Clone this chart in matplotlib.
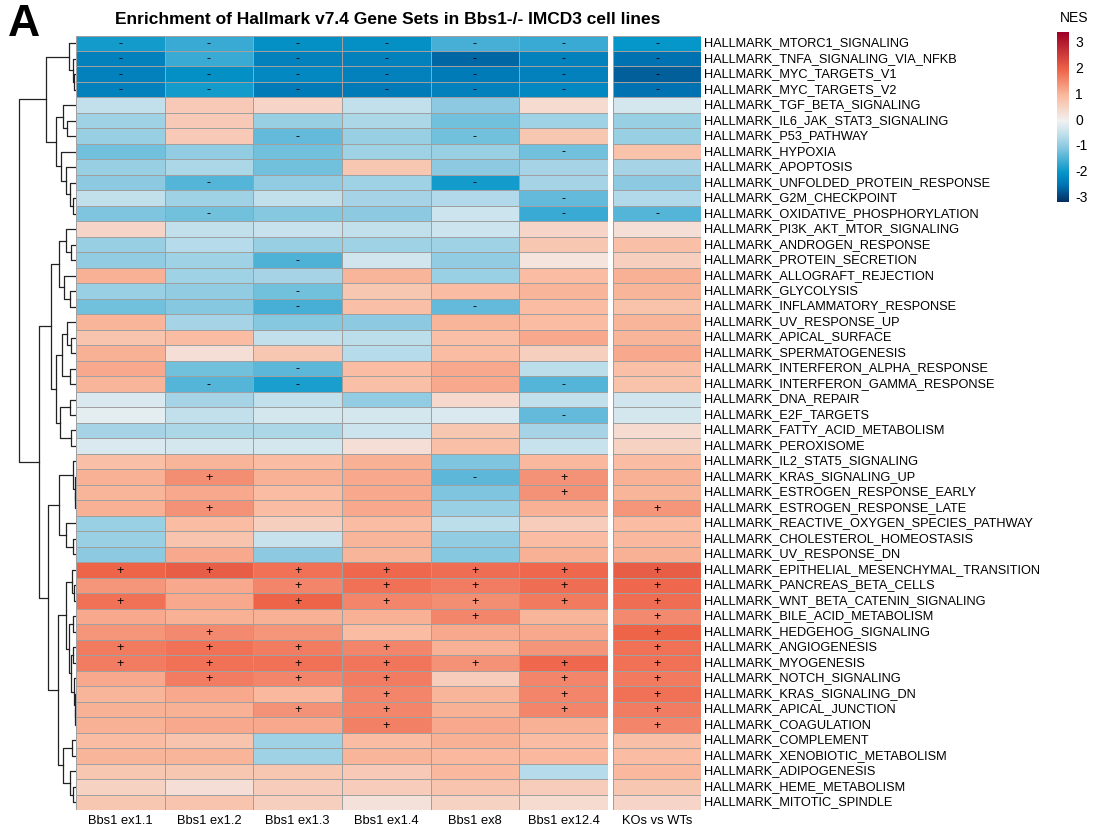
import numpy as np
import matplotlib
matplotlib.use("Agg")
import matplotlib.pyplot as plt
from matplotlib.colors import LinearSegmentedColormap, Normalize

plt.rcParams['font.family'] = ['Liberation Sans', 'DejaVu Sans']

# ---- data ----
gene_sets = [
    "MTORC1_SIGNALING", "TNFA_SIGNALING_VIA_NFKB", "MYC_TARGETS_V1", "MYC_TARGETS_V2",
    "TGF_BETA_SIGNALING", "IL6_JAK_STAT3_SIGNALING", "P53_PATHWAY", "HYPOXIA",
    "APOPTOSIS", "UNFOLDED_PROTEIN_RESPONSE", "G2M_CHECKPOINT", "OXIDATIVE_PHOSPHORYLATION",
    "PI3K_AKT_MTOR_SIGNALING", "ANDROGEN_RESPONSE", "PROTEIN_SECRETION", "ALLOGRAFT_REJECTION",
    "GLYCOLYSIS", "INFLAMMATORY_RESPONSE", "UV_RESPONSE_UP", "APICAL_SURFACE",
    "SPERMATOGENESIS", "INTERFERON_ALPHA_RESPONSE", "INTERFERON_GAMMA_RESPONSE", "DNA_REPAIR",
    "E2F_TARGETS", "FATTY_ACID_METABOLISM", "PEROXISOME", "IL2_STAT5_SIGNALING",
    "KRAS_SIGNALING_UP", "ESTROGEN_RESPONSE_EARLY", "ESTROGEN_RESPONSE_LATE",
    "REACTIVE_OXYGEN_SPECIES_PATHWAY", "CHOLESTEROL_HOMEOSTASIS", "UV_RESPONSE_DN",
    "EPITHELIAL_MESENCHYMAL_TRANSITION", "PANCREAS_BETA_CELLS", "WNT_BETA_CATENIN_SIGNALING",
    "BILE_ACID_METABOLISM", "HEDGEHOG_SIGNALING", "ANGIOGENESIS", "MYOGENESIS",
    "NOTCH_SIGNALING", "KRAS_SIGNALING_DN", "APICAL_JUNCTION", "COAGULATION",
    "COMPLEMENT", "XENOBIOTIC_METABOLISM", "ADIPOGENESIS", "HEME_METABOLISM", "MITOTIC_SPINDLE",
]
samples = ["Bbs1 ex1.1", "Bbs1 ex1.2", "Bbs1 ex1.3", "Bbs1 ex1.4", "Bbs1 ex8", "Bbs1 ex12.4"]
contrast = "KOs vs WTs"

# NES per gene set: 6 cell lines + KOs vs WTs
nes = [
    [-1.9, -1.6, -2.1, -2.1, -1.5, -1.6, -2.0],
    [-2.3, -1.6, -2.3, -2.3, -2.6, -2.3, -2.5],
    [-2.3, -2.1, -2.2, -2.3, -2.4, -2.3, -2.7],
    [-2.3, -1.9, -2.4, -2.4, -2.3, -2.2, -2.5],
    [-0.5, 0.7, 0.5, -0.5, -1.0, 0.4, -0.3],
    [-0.8, 0.7, -0.9, -0.7, -1.2, -0.8, -0.9],
    [-0.9, 0.7, -1.3, -0.9, -1.2, 0.75, -0.9],
    [-1.2, -0.95, -1.2, -0.8, -0.85, -1.2, 0.85],
    [-0.9, -0.7, -1.2, 0.75, -1.0, -0.75, -0.75],
    [-1.0, -1.4, -0.95, -0.8, -1.9, -0.75, -1.0],
    [-0.5, -0.8, -0.5, -0.75, -0.65, -1.3, -0.65],
    [-1.1, -1.2, -1.05, -1.0, -0.4, -1.6, -1.4],
    [0.5, -0.5, -0.45, -0.5, -0.4, 0.5, 0.35],
    [-0.9, -0.6, -0.9, -0.8, -0.8, 0.75, 0.9],
    [-0.95, -0.8, -1.45, -0.35, -0.95, 0.25, 0.6],
    [1.1, -0.8, -0.75, 1.05, -0.85, 0.95, 1.1],
    [-0.85, -0.95, -1.2, 0.75, 0.95, 1.05, 1.05],
    [-1.2, -1.05, -1.5, 0.9, -1.3, 0.95, 0.85],
    [1.05, -0.75, -1.05, -1.0, 1.05, 0.95, 1.05],
    [0.8, 0.95, -0.5, -0.55, 0.9, 1.2, 1.05],
    [1.1, 0.35, 0.75, -0.6, 0.95, 0.6, 1.2],
    [1.2, -1.2, -1.35, 0.95, 1.2, -0.55, 0.9],
    [1.05, -1.4, -1.85, 0.9, 1.2, -1.4, 0.85],
    [-0.25, -0.75, -0.5, -0.95, 0.45, -0.5, -0.35],
    [-0.15, -0.5, -0.3, -0.3, -0.25, -1.3, -0.3],
    [-0.75, -0.7, -0.7, -0.4, 0.75, -0.75, 0.4],
    [-0.25, -0.3, -0.3, 0.35, 0.9, -0.45, 0.55],
    [0.9, 1.05, 0.95, 1.1, -1.1, 1.0, 0.95],
    [1.1, 1.5, 1.1, 1.2, -1.35, 1.45, 1.1],
    [1.05, 1.2, 0.95, 1.2, -1.1, 1.45, 1.05],
    [1.1, 1.45, 0.95, 1.2, -0.85, 1.1, 1.4],
    [-0.85, 0.95, 0.6, 0.95, -0.55, 0.65, 0.95],
    [-0.85, 0.8, -0.45, 1.05, -0.95, 0.95, 1.0],
    [-1.0, 1.2, -1.0, 1.05, -1.05, 1.1, 1.1],
    [2.0, 2.1, 1.85, 1.95, 1.9, 1.95, 2.1],
    [1.4, 1.2, 1.6, 1.85, 1.7, 1.9, 1.95],
    [1.85, 1.2, 2.0, 1.6, 1.5, 1.75, 1.9],
    [1.2, 1.1, 1.1, 1.1, 1.6, 1.05, 1.55],
    [1.4, 1.55, 1.4, 0.95, 1.2, 1.2, 2.0],
    [1.75, 1.85, 1.7, 1.6, 1.1, 1.4, 1.85],
    [1.7, 1.85, 1.85, 1.8, 1.45, 1.95, 1.85],
    [1.2, 1.7, 1.6, 1.7, 0.65, 1.6, 1.75],
    [1.05, 1.2, 1.0, 1.6, 1.05, 1.6, 1.85],
    [1.1, 1.1, 1.45, 1.6, 1.1, 1.6, 1.7],
    [1.1, 1.2, 1.2, 1.65, 1.2, 1.1, 1.6],
    [0.95, 0.8, -0.8, 0.95, 1.1, 0.95, 0.9],
    [1.05, 1.05, -0.8, 1.05, 1.0, 1.0, 0.95],
    [0.75, 0.75, 0.75, 0.7, 1.0, -0.6, 1.0],
    [0.55, 0.35, 0.65, 0.65, 0.8, 0.65, 0.75],
    [0.75, 0.8, 0.6, 0.3, 0.55, 0.4, 0.5],
]

# significance marks, one character per column
sig = [
    "-------", "-------", "-------", "-------", "       ", "       ", "  - -  ", "     - ",
    "       ", " -  -  ", "     - ", " -   --", "       ", "       ", "  -    ", "       ",
    "  -    ", "  - -  ", "       ", "       ", "       ", "  -    ", " --  - ", "       ",
    "     - ", "       ", "       ", "       ", " +  -+ ", "     + ", " +    +", "       ",
    "       ", "       ", "+++++++", "  +++++", "+ +++++", "    + +", " +    +", "++++  +",
    "+++++++", " +++ ++", "   + ++", "  ++ ++", "   +  +", "       ", "       ", "       ",
    "       ", "       ",
]

# row dendrogram: (height, left, right), leaves are row indices
tree = (57,
        (30,
         (7, 0, (2.5, 1, (1.5, 2, 3))),
         (20,
          (13, 4, (9, 5, 6)),
          (15, 7, (10, 8, (5.7, 9, (3.3, 10, 11)))))),
        (37,
         (25,
          (17, (10, 12, (5, 13, 14)), (12, 15, (6, 16, 17))),
          (20,
           (14, (9, 18, (5, 19, 20)), (6, 21, 22)),
           (16, (6, 23, 24), (5, 25, 26)))),
         (28,
          (17, (3, 27, (1, 28, (0.5, 29, 30))), (10, 31, (3, 32, 33))),
          (18,
           (10, (4, 34, (2, 35, 36)),
            (7, (3, 37, 38), (5, (2.5, 39, 40), (2, 41, (1, 42, (0.8, 43, 44)))))),
           (13, (4, 45, 46), (6, 47, (3, 48, 49)))))))

vmin, vmax = -3.14, 3.45
cmap_vals = [vmin, -2.5, -2, -1, -0.5, 0, 1, 2, vmax]
cmap_cols = ['#053061', '#0074B4', '#0596CA', '#8CCAE1', '#C2E0EC', '#F2F2F2',
             '#FAB99E', '#EE6449', '#9E0026']
cmap = LinearSegmentedColormap.from_list(
    'nes', [((v - vmin) / (vmax - vmin), c) for v, c in zip(cmap_vals, cmap_cols)])
norm = Normalize(vmin, vmax)

W, H = 1104, 827
fig = plt.figure(figsize=(W / 100, H / 100), dpi=100)


def px_axes(x0, y0, x1, y1):
    return fig.add_axes([x0 / W, 1 - y1 / H, (x1 - x0) / W, (y1 - y0) / H])


data = np.array(nes)
n = len(gene_sets)
top, bot = 35.5, 810

# heatmaps
blocks = [(75.8, 608, data[:, :6], samples, [s[:6] for s in sig]),
          (613, 701, data[:, 6:], [contrast], [s[6:] for s in sig])]
for x0, x1, block, labels, marks in blocks:
    ax = px_axes(x0, top, x1, bot)
    ax.pcolormesh(block, cmap=cmap, norm=norm, edgecolors='#A0A0A0', linewidth=0.55)
    ax.set_xlim(0, block.shape[1])
    ax.set_ylim(n, 0)
    ax.axis('off')
    for i, row in enumerate(marks):
        for j, m in enumerate(row):
            if m != ' ':
                ax.text(j + 0.5, i + 0.55, m, ha='center', va='center', fontsize=9, color='black')
    for j, lab in enumerate(labels):
        ax.text(j + 0.5, n + 0.3, lab, ha='center', va='top', fontsize=9.3)

# row labels
ax = px_axes(701, top, 1040, bot)
ax.set_xlim(0, 1)
ax.set_ylim(n, 0)
ax.axis('off')
for i, g in enumerate(gene_sets):
    ax.text(0.01, i + 0.5, "HALLMARK_" + g, ha='left', va='center', fontsize=9.2)

# dendrogram
axd = px_axes(0, top, 75.8, bot)
axd.set_xlim(75.8, 0)
axd.set_ylim(n, 0)
axd.axis('off')


def draw_node(node):
    if isinstance(node, int):
        return node + 0.5, 0.0
    h, left, right = node
    yl, hl = draw_node(left)
    yr, hr = draw_node(right)
    axd.plot([hl, h, h, hr], [yl, yl, yr, yr], color='#222222', lw=0.9)
    return (yl + yr) / 2, h


draw_node(tree)

# colour legend
axc = px_axes(1057, 31.7, 1069, 201.7)
grad = np.linspace(vmin, vmax, 256)[:, None]
axc.imshow(grad, cmap=cmap, norm=norm, aspect='auto', origin='lower',
           extent=[0, 1, vmin, vmax])
axc.set_ylim(vmin, vmax)
axc.axis('off')
for t in range(-3, 4):
    axc.text(1.5, t, str(t), ha='left', va='center', fontsize=10)
axc.text(0.2, vmax + 0.25, "NES", ha='left', va='bottom', fontsize=10)

# title and panel letter
fig.text(388 / W, 1 - 20 / H, "Enrichment of Hallmark v7.4 Gene Sets in Bbs1-/- IMCD3 cell lines",
         ha='center', va='center', fontsize=12.5, fontweight='bold')
fig.text(8 / W, 1 - 24 / H, "A", ha='left', va='center', fontsize=32, fontweight='bold')

fig.savefig("out.png", dpi=100)
